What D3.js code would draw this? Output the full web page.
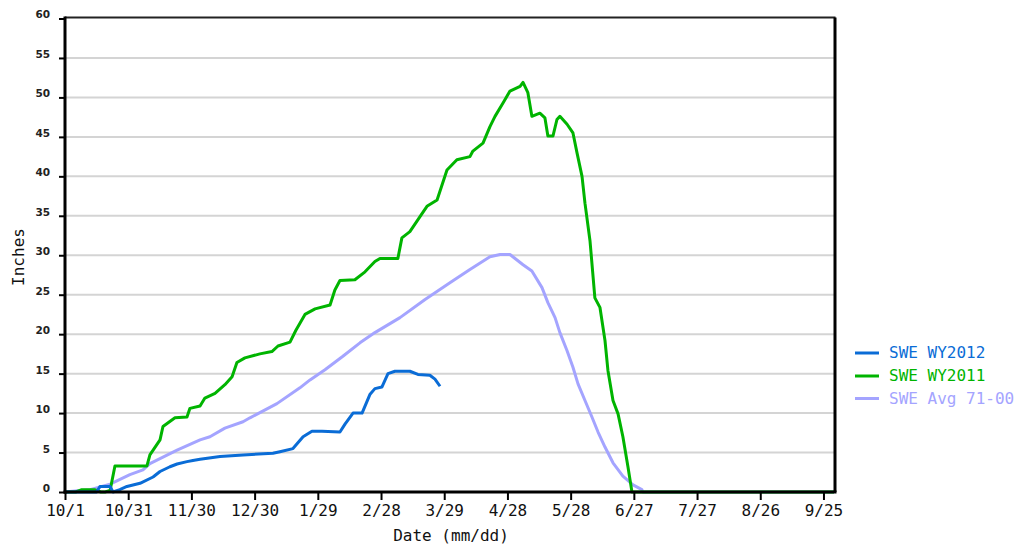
<!DOCTYPE html>
<html>
<head>
<meta charset="utf-8">
<script src="https://cdn.jsdelivr.net/npm/d3@7"></script>
<style>
  html, body { margin: 0; padding: 0; background: #fff; }
  svg { display: block; }
</style>
</head>
<body>
<svg id="chart" width="1025" height="546"></svg>
<script>
// ---- Data (day = days since 10/1 of the water year) ----
const waterYearStart = "2011-10-01";
const waterYearEnd = "2012-09-30";

const seriesNames = ["SWE WY2012", "SWE WY2011", "SWE Avg 71-00"];
const seriesColors = ["#0a6cd6", "#00b400", "#a4a4ff"];

const wy2012Days = [0, 15, 16.6, 21.4, 22.8, 26, 29.4, 35.6, 41.8, 45.1, 49.8, 53.2, 57.9, 60.7, 64.1, 73.6, 84.5, 98.7, 102, 108.2, 113, 117.2, 122, 130.5, 132.9, 136.7, 141, 144.8, 147.1, 150.4, 153.3, 156.6, 163.7, 167.5, 173.2, 175.6, 178];
const wy2012Swe  = [0, 0, 0.7, 0.7, 0, 0.3, 0.7, 1.1, 1.9, 2.6, 3.2, 3.55, 3.85, 4.0, 4.15, 4.5, 4.7, 4.9, 5.1, 5.5, 7.0, 7.7, 7.7, 7.6, 8.6, 10, 10, 12.4, 13.1, 13.3, 15, 15.3, 15.3, 14.9, 14.8, 14.3, 13.4];

const wy2011Days = [0, 5, 8, 14, 17, 19, 21.4, 23.7, 38.9, 40.3, 45.1, 46.5, 52.2, 57.9, 59.3, 64.1, 66.4, 71.2, 75.9, 79.3, 81.6, 85.4, 92.5, 98.2, 101.1, 106.8, 109.6, 113.9, 118.7, 125.8, 128.1, 130.5, 137.6, 142.4, 147.1, 149.5, 158, 159.9, 163.7, 168.5, 171.8, 176.6, 181.3, 186, 192.2, 193.6, 198.4, 201.7, 204.1, 207.9, 211.2, 216, 217.4, 219.7, 221.6, 225.4, 227.8, 229.2, 231.6, 233.5, 234.9, 238.3, 241.1, 243, 245.4, 246.8, 249.2, 251.5, 253.9, 256.3, 257.7, 260.1, 262.5, 264.8, 267.2, 269.1, 365];
const wy2011Swe  = [0, 0, 0.3, 0.3, 0, 0, 0.2, 3.3, 3.3, 4.7, 6.6, 8.3, 9.4, 9.5, 10.6, 10.9, 11.9, 12.5, 13.6, 14.6, 16.4, 17, 17.5, 17.8, 18.5, 19, 20.5, 22.5, 23.2, 23.7, 25.6, 26.8, 26.9, 27.9, 29.2, 29.6, 29.6, 32.2, 33, 34.9, 36.2, 37, 40.8, 42.1, 42.5, 43.2, 44.2, 46.3, 47.6, 49.3, 50.8, 51.4, 51.9, 50.6, 47.6, 48, 47.4, 45.1, 45.1, 47.2, 47.6, 46.6, 45.5, 43, 40, 36.6, 31.8, 24.6, 23.4, 19.2, 15.4, 11.6, 9.9, 7.0, 3.2, 0, 0];

const avgDays = [0, 7.1, 11.9, 21.4, 30.8, 37, 40.3, 53.2, 64.1, 68.8, 75.9, 84.5, 87.8, 100.6, 111.5, 116.3, 123.4, 131.9, 140, 147.1, 159, 170.9, 182.7, 192.2, 201.7, 206.5, 211.2, 217.4, 221.6, 226.4, 229.2, 232.6, 234.9, 238.3, 241.1, 243.5, 246.8, 250.1, 253, 256.3, 260.1, 264.8, 269.6, 273.8, 274.3, 365];
const avgSwe  = [0, 0.2, 0.3, 1.0, 2.2, 2.8, 3.6, 5.3, 6.6, 7.0, 8.1, 8.9, 9.4, 11.2, 13.2, 14.2, 15.5, 17.2, 18.9, 20.2, 22.1, 24.4, 26.5, 28.2, 29.8, 30.1, 30.1, 28.8, 28.0, 25.9, 24.0, 22.1, 20.2, 17.9, 15.8, 13.7, 11.6, 9.5, 7.6, 5.7, 3.7, 2.0, 0.9, 0.3, 0, 0];

const yTicks = [0, 5, 10, 15, 20, 25, 30, 35, 40, 45, 50, 55, 60];
const xTickDays = [0, 30, 60, 90, 120, 150, 180, 210, 240, 270, 300, 330, 360];
const yLabel = "Inches";
const xLabel = "Date (mm/dd)";

// ---- Layout ----
const svg = d3.select("#chart");
const plotLeft = 65, plotRight = 834, plotTop = 18.5, plotBottom = 492;
const parse = d3.timeParse("%Y-%m-%d");
const startDate = parse(waterYearStart);
const endDate = parse(waterYearEnd);
const dayToDate = d => new Date(startDate.getTime() + d * 86400000);

const x = d3.scaleTime().domain([startDate, endDate]).range([plotLeft, plotRight]);
const y = d3.scaleLinear().domain([0, 60]).range([plotBottom, plotTop]);

const mono = "'DejaVu Sans Mono', monospace";

// gridlines
svg.append("g")
  .selectAll("line")
  .data(yTicks.filter(v => v > 0 && v < 60))
  .join("line")
  .attr("x1", plotLeft).attr("x2", plotRight)
  .attr("y1", d => y(d)).attr("y2", d => y(d))
  .attr("stroke", "#d4d4d4").attr("stroke-width", 2);

// series lines
const line = d3.line()
  .x(d => x(dayToDate(d[0])))
  .y(d => y(d[1]))
  .curve(d3.curveLinear);

const series = [
  { name: seriesNames[2], color: seriesColors[2], pts: d3.zip(avgDays, avgSwe) },
  { name: seriesNames[1], color: seriesColors[1], pts: d3.zip(wy2011Days, wy2011Swe) },
  { name: seriesNames[0], color: seriesColors[0], pts: d3.zip(wy2012Days, wy2012Swe) }
];

svg.append("g")
  .selectAll("path")
  .data(series)
  .join("path")
  .attr("d", d => line(d.pts))
  .attr("fill", "none")
  .attr("stroke", d => d.color)
  .attr("stroke-width", 3)
  .attr("stroke-linejoin", "round");

// frame: top and right
svg.append("line").attr("x1", plotLeft).attr("x2", plotRight + 1.5).attr("y1", plotTop - 1).attr("y2", plotTop - 1)
  .attr("stroke", "#222").attr("stroke-width", 2);
svg.append("line").attr("x1", plotRight + 1).attr("x2", plotRight + 1).attr("y1", plotTop - 1).attr("y2", plotBottom)
  .attr("stroke", "#000").attr("stroke-width", 3);

// y axis
const yAxis = d3.axisLeft(y).tickValues(yTicks).tickSize(6).tickPadding(9).tickFormat(d3.format("d"));
const gy = svg.append("g").attr("transform", `translate(${plotLeft},0)`).call(yAxis);
gy.select(".domain").attr("stroke", "#000").attr("stroke-width", 3).attr("d", `M0,${plotTop - 2}V${plotBottom + 1.5}`);
gy.selectAll(".tick line").attr("stroke", "#000").attr("stroke-width", 2);
gy.selectAll(".tick text")
  .attr("font-family", "'DejaVu Sans', sans-serif")
  .attr("font-size", 10.5)
  .attr("font-weight", "bold")
  .attr("fill", "#222")
  .attr("dy", "-0.05em");

// x axis
const xAxis = d3.axisBottom(x)
  .tickValues(xTickDays.map(dayToDate))
  .tickSize(8).tickPadding(5)
  .tickFormat(d3.timeFormat("%-m/%-d"));
const gx = svg.append("g").attr("transform", `translate(0,${plotBottom})`).call(xAxis);
gx.select(".domain").attr("stroke", "#000").attr("stroke-width", 3).attr("d", `M${plotLeft - 1.5},0H${plotRight + 2.5}`);
gx.selectAll(".tick line").attr("stroke", "#000").attr("stroke-width", 2);
gx.selectAll(".tick text")
  .attr("font-family", mono)
  .attr("font-size", 16)
  .attr("fill", "#111");

// axis titles
svg.append("text")
  .attr("x", 451).attr("y", 541)
  .attr("text-anchor", "middle")
  .attr("font-family", mono).attr("font-size", 16).attr("fill", "#111")
  .text(xLabel);

svg.append("text")
  .attr("transform", "translate(24,257) rotate(-90)")
  .attr("text-anchor", "middle")
  .attr("font-family", mono).attr("font-size", 16).attr("fill", "#111")
  .text(yLabel);

// legend
const legendY = [353, 376, 398.5];
const lg = svg.append("g");
seriesNames.forEach((name, i) => {
  lg.append("line")
    .attr("x1", 855).attr("x2", 879)
    .attr("y1", legendY[i]).attr("y2", legendY[i])
    .attr("stroke", seriesColors[i]).attr("stroke-width", 3);
  lg.append("text")
    .attr("x", 889).attr("y", legendY[i] + 5)
    .attr("font-family", mono).attr("font-size", 16)
    .attr("fill", seriesColors[i])
    .text(name);
});
</script>
</body>
</html>
